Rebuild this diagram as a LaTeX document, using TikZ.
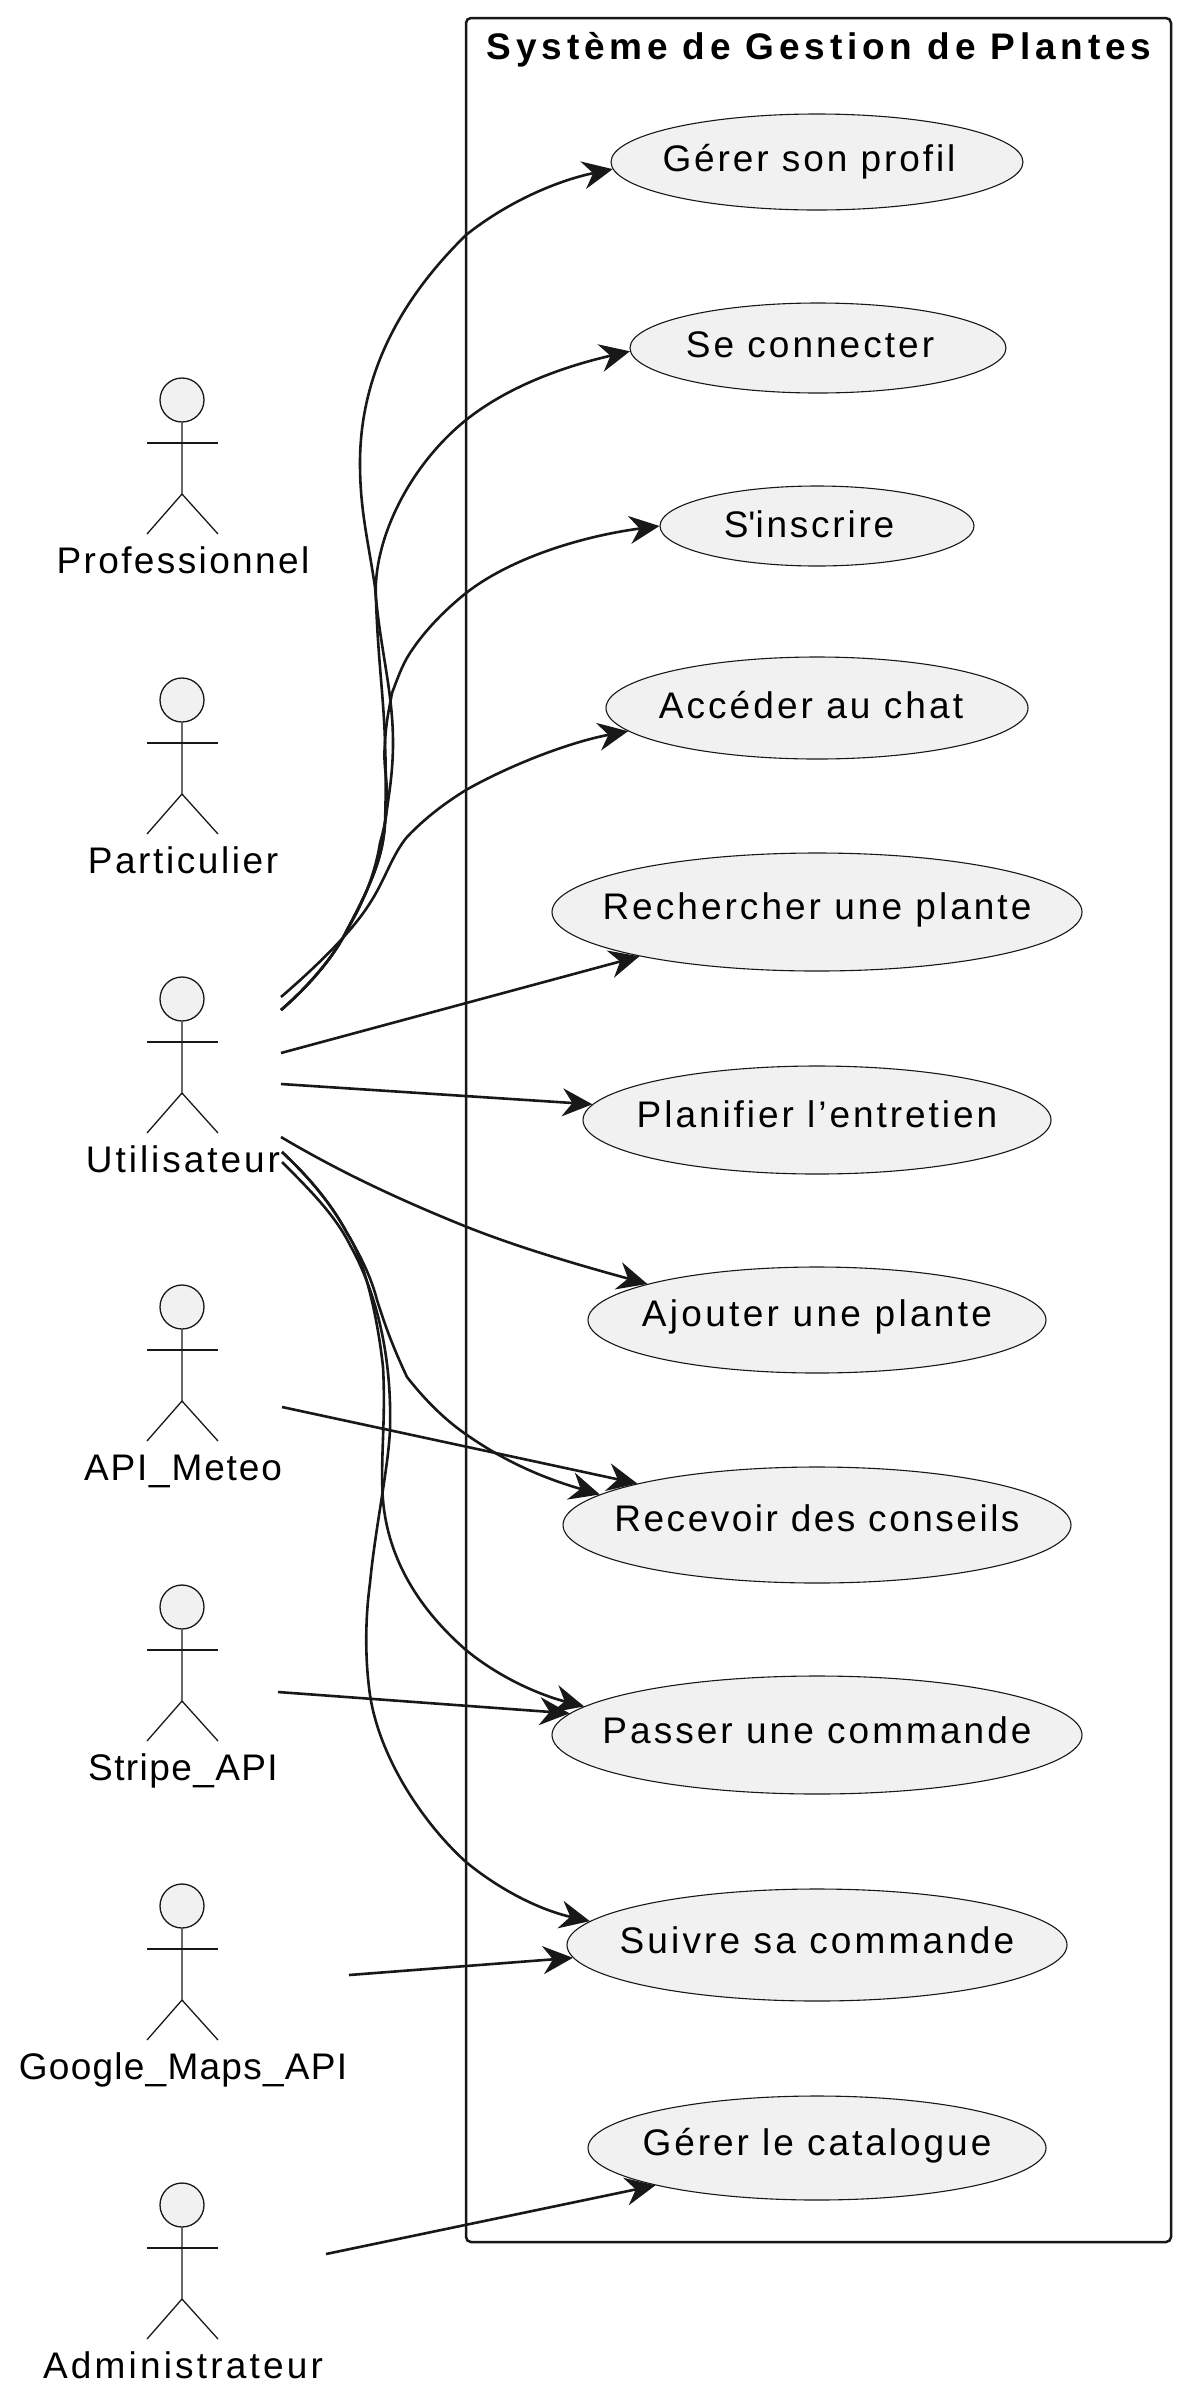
\documentclass[tikz,border=0pt]{standalone}
\usepackage{fontspec}
\setmainfont{Liberation Sans}
\usetikzlibrary{arrows.meta,shapes.geometric,backgrounds}
\definecolor{umlline}{HTML}{181818}
\definecolor{umlfill}{HTML}{F1F1F1}
\newcommand{\umlfont}{\fontsize{18.5pt}{22pt}\selectfont}
\tikzset{
  usecase/.style = {ellipse, draw = umlline, fill = umlfill, line width = .55pt, inner sep = 0pt},
  casetext/.style = {inner sep = 0pt, text height = 14pt, text depth = 4pt, font = \umlfont\addfontfeature{LetterSpace=#1}},
  actorlabel/.style = {anchor = base, inner sep = 0pt, font = \umlfont\addfontfeature{LetterSpace=#1}},
  stick/.style = {draw = umlline, line width = .65pt},
  link/.style = {draw = umlline, line width = 1.3pt, -{Stealth[length = 15pt, width = 14pt, inset = 5pt]}}
}
\newcommand{\actorfig}[4]{%
  \node[stick, circle, fill = umlfill, minimum size = 22pt, inner sep = 0pt] (#1head) at (182,#2) {};
  \node[actorlabel = #4] (#1) at (183,#2+173) {#3};
  \draw[stick] (#1head) -- (182,#2+94) -- (147,#2+134);
  \draw[stick] (182,#2+94) -- (218,#2+134);
  \draw[stick] (147,#2+43) -- (218,#2+43);
}
\begin{document}
\begin{tikzpicture}[x = .5pt, y = -.5pt]
  \useasboundingbox (0,0) rectangle (1183,2400);
  % system frame
  \draw[draw = umlline, line width = 1.25pt, rounded corners = 2.5pt] (466,18) rectangle (1171,2242);
  \node[anchor = base, inner sep = 0pt, font = \umlfont\bfseries\addfontfeature{LetterSpace=13}] (title) at (819,59) {Système de Gestion de Plantes};
  % use cases
  \node[usecase, minimum width = 206pt, minimum height = 48pt, label = {[casetext = 7.9, shift = {(-8,-1)}]center:Gérer son profil}] (gerer) at (817,162) {};
  \node[usecase, minimum width = 188pt, minimum height = 45pt, label = {[casetext = 8.2, shift = {(-8,-1)}]center:Se connecter}] (connecter) at (818,348) {};
  \node[usecase, minimum width = 157pt, minimum height = 40pt, label = {[casetext = 7.5, shift = {(-8,1)}]center:S\textquotesingle inscrire}] (inscrire) at (817,526) {};
  \node[usecase, minimum width = 211pt, minimum height = 51pt, label = {[casetext = 8.3, shift = {(-6,0)}]center:Accéder au chat}] (chat) at (817,708) {};
  \node[usecase, minimum width = 265pt, minimum height = 59pt, label = {[casetext = 8.2, shift = {(0,-3)}]center:Rechercher une plante}] (rechercher) at (817,912) {};
  \node[usecase, minimum width = 234pt, minimum height = 54pt, label = {[casetext = 8, shift = {(0,-3)}]center:Planifier l’entretien}] (planifier) at (817,1120) {};
  \node[usecase, minimum width = 229pt, minimum height = 53pt, label = {[casetext = 9, shift = {(0,-4)}]center:Ajouter une plante}] (ajouter) at (817,1320) {};
  \node[usecase, minimum width = 254pt, minimum height = 58pt, label = {[casetext = 6.8, shift = {(0,-4)}]center:Recevoir des conseils}] (recevoir) at (817,1525) {};
  \node[usecase, minimum width = 265pt, minimum height = 59pt, label = {[casetext = 8.2, shift = {(0,-2)}]center:Passer une commande}] (passer) at (817,1735) {};
  \node[usecase, minimum width = 250pt, minimum height = 56pt, label = {[casetext = 8.5, shift = {(0,-2)}]center:Suivre sa commande}] (suivre) at (817,1945) {};
  \node[usecase, minimum width = 229pt, minimum height = 52pt, label = {[casetext = 8, shift = {(0,-3)}]center:Gérer le catalogue}] (catalogue) at (817,2148) {};
  % actors
  \actorfig{pro}{400}{Professionnel}{6.4}
  \actorfig{part}{700}{Particulier}{7}
  \actorfig{util}{999}{Utilisateur}{8}
  \actorfig{meteo}{1307}{API\string_Meteo}{5}
  \actorfig{stripe}{1607}{Stripe\string_API}{3.8}
  \actorfig{maps}{1906}{Google\string_Maps\string_API}{3.4}
  \actorfig{admin}{2205}{Administrateur}{8.6}
  % free ends of the connectors
  \coordinate (utilA) at (281,997);
  \coordinate (utilB) at (281,1010);
  \coordinate (utilC) at (281,1053);
  \coordinate (utilD) at (281,1084);
  \coordinate (utilE) at (281,1137);
  \coordinate (utilF) at (282,1152);
  \coordinate (utilG) at (282,1162);
  \coordinate (meteoA) at (282,1407);
  \coordinate (stripeA) at (278,1692);
  \coordinate (mapsA) at (349,1975);
  \coordinate (adminA) at (326,2254);
  % connectors, under the ellipses
  \begin{scope}[on background layer]
  \draw[link] (utilB) .. controls (310,985) and (335,955) .. (347,930) .. controls (368,890) and (383,860) .. (385,823) .. controls (388,800) and (393,775) .. (393,743) .. controls (393,690) and (380,650) .. (375,587) .. controls (368,540) and (360,510) .. (360,463) .. controls (360,360) and (415,285) .. (466,235) .. controls (510,200) and (560,180) .. (gerer.182);
  \draw[link] (utilB) .. controls (310,985) and (335,955) .. (347,930) .. controls (368,890) and (383,860) .. (385,823) .. controls (386,790) and (386,770) .. (385,743) .. controls (384,700) and (378,660) .. (376,600) .. controls (372,540) and (410,465) .. (466,420) .. controls (511,384) and (570,365) .. (connecter.181.5);
  \draw[link] (utilB) .. controls (310,985) and (335,955) .. (347,930) .. controls (362,905) and (375,875) .. (380,843) .. controls (385,825) and (387,815) .. (387,797) .. controls (387,775) and (383,765) .. (385,743) .. controls (386,720) and (390,705) .. (392,693) .. controls (397,680) and (402,665) .. (410,653) .. controls (425,630) and (445,610) .. (466,593) .. controls (515,555) and (590,535) .. (inscrire.180);
  \draw[link] (utilA) .. controls (310,972) and (350,935) .. (370,903) .. controls (385,880) and (392,855) .. (407,837) .. controls (425,818) and (445,803) .. (466,790) .. controls (510,765) and (570,742) .. (chat.187.5);
  \draw[link] (utilC) -- (rechercher.194.8);
  \draw[link] (utilD) -- (planifier.176.4);
  \draw[link] (utilE) .. controls (340,1172) and (400,1200) .. (467,1227) .. controls (525,1250) and (590,1268) .. (ajouter.168);
  \draw[link] (utilF) .. controls (310,1178) and (332,1205) .. (347,1233) .. controls (362,1258) and (372,1280) .. (377,1300) .. controls (385,1325) and (392,1345) .. (407,1377) .. controls (425,1400) and (445,1420) .. (467,1435) .. controls (510,1465) and (550,1480) .. (recevoir.172.4);
  \draw[link] (utilF) .. controls (310,1178) and (332,1205) .. (347,1233) .. controls (365,1260) and (378,1320) .. (383,1367) .. controls (386,1420) and (380,1460) .. (383,1500) .. controls (388,1560) and (420,1610) .. (466,1650) .. controls (500,1678) and (540,1695) .. (passer.173.6);
  \draw[link] (utilG) .. controls (310,1190) and (335,1215) .. (350,1245) .. controls (378,1295) and (392,1360) .. (390,1430) .. controls (388,1470) and (375,1530) .. (370,1583) .. controls (365,1620) and (365,1660) .. (370,1695) .. controls (380,1760) and (425,1825) .. (466,1862) .. controls (500,1890) and (540,1910) .. (suivre.174.85);
  \draw[link] (meteoA) -- (recevoir.167.9);
  \draw[link] (stripeA) -- (passer.175.4);
  \draw[link] (mapsA) -- (suivre.183.9);
  \draw[link] (adminA) -- (catalogue.193);
  \end{scope}
\end{tikzpicture}
\end{document}
